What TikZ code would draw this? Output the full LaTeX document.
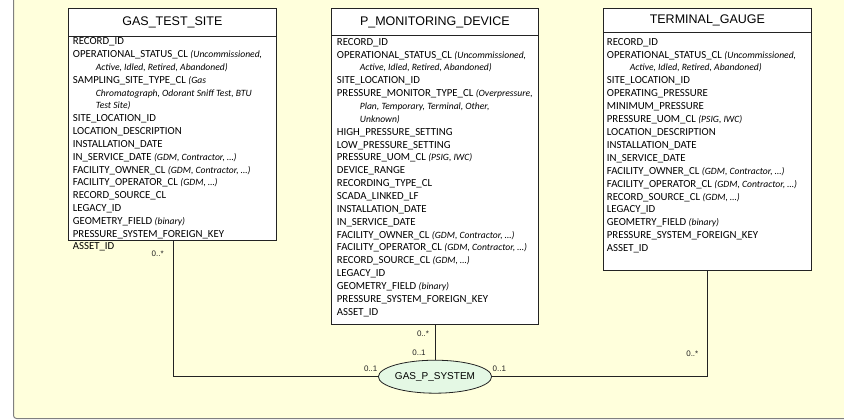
\documentclass[tikz,border=0pt]{standalone}
\usepackage{fontspec}
\setmainfont{Liberation Sans}
\newfontfamily\attrfont{Carlito}
\usetikzlibrary{shapes.geometric}

\definecolor{canvas}{RGB}{255,255,220}
\definecolor{frameline}{RGB}{128,128,128}
\definecolor{assocfill}{RGB}{228,248,228}
\definecolor{edge}{RGB}{35,35,35}

% code-list remark set in small italics after an attribute name
\newcommand\cl[1]{{\fontsize{9.6}{10}\selectfont\itshape #1}}

\tikzset{
  tablehead/.style={draw=edge, fill=white, line width=0.8pt, anchor=north west,
    inner sep=0pt, minimum width=208pt, font=\fontsize{12.5}{14}\selectfont},
  tablebody/.style={draw=edge, fill=white, line width=0.8pt, anchor=north west,
    inner sep=0pt, minimum width=208pt},
  attr/.style={anchor=base west, inner sep=0pt,
    font=\attrfont\fontsize{10.8}{12.85}\selectfont},
  mult/.style={inner sep=0pt, font=\fontsize{8}{9}\selectfont, text=edge},
  assoc/.style={ellipse, draw=edge, fill=assocfill, line width=0.8pt,
    minimum width=98pt, minimum height=33pt, inner sep=0pt,
    font=\fontsize{10}{12}\selectfont},
  link/.style={draw=edge, line width=0.8pt},
}

\begin{document}
\begin{tikzpicture}[x=1pt, y=-1pt]
\useasboundingbox (0,0) rectangle (844,420);
\fill[white] (0,0) rectangle (844,420);
\filldraw[fill=canvas, draw=frameline, line width=1pt, rounded corners=3pt]
  (13.5,-10) rectangle (860,418.5);

% ---------- GAS_TEST_SITE ----------
\node[tablehead, minimum height=28pt] (gtsH) at (68,8) {GAS\_TEST\_SITE};
\node[tablebody, minimum height=204pt] (gtsB) at (68,36) {};
\foreach \dx/\t [count=\i] in {
  0/{RECORD\_ID},
  0/{OPERATIONAL\_STATUS\_CL \cl{(Uncommissioned,}},
  23/{\cl{Active, Idled, Retired, Abandoned)}},
  0/{SAMPLING\_SITE\_TYPE\_CL \cl{(Gas}},
  23/{\cl{Chromatograph, Odorant Sniff Test, BTU}},
  23/{\cl{Test Site)}},
  0/{SITE\_LOCATION\_ID},
  0/{LOCATION\_DESCRIPTION},
  0/{INSTALLATION\_DATE},
  0/{IN\_SERVICE\_DATE \cl{(GDM, Contractor, …)}},
  0/{FACILITY\_OWNER\_CL \cl{(GDM, Contractor, …)}},
  0/{FACILITY\_OPERATOR\_CL \cl{(GDM, …)}},
  0/{RECORD\_SOURCE\_CL},
  0/{LEGACY\_ID},
  0/{GEOMETRY\_FIELD \cl{(binary)}},
  0/{PRESSURE\_SYSTEM\_FOREIGN\_KEY},
  0/{ASSET\_ID}}
  \node[attr] (gts-\i) at (72.7+\dx, 45.0+12.8*\i-12.8) {\t};

% ---------- P_MONITORING_DEVICE ----------
\node[tablehead, minimum width=207pt, minimum height=27pt] (pmdH) at (331,8) {P\_MONITORING\_DEVICE};
\node[tablebody, minimum width=207pt, minimum height=289pt] (pmdB) at (331,35) {};
\foreach \dx/\t [count=\i] in {
  0/{RECORD\_ID},
  0/{OPERATIONAL\_STATUS\_CL \cl{(Uncommissioned,}},
  23/{\cl{Active, Idled, Retired, Abandoned)}},
  0/{SITE\_LOCATION\_ID},
  0/{PRESSURE\_MONITOR\_TYPE\_CL \cl{(Overpressure,}},
  23/{\cl{Plan, Temporary, Terminal, Other,}},
  23/{\cl{Unknown)}},
  0/{HIGH\_PRESSURE\_SETTING},
  0/{LOW\_PRESSURE\_SETTING},
  0/{PRESSURE\_UOM\_CL \cl{(PSIG, IWC)}},
  0/{DEVICE\_RANGE},
  0/{RECORDING\_TYPE\_CL},
  0/{SCADA\_LINKED\_LF},
  0/{INSTALLATION\_DATE},
  0/{IN\_SERVICE\_DATE},
  0/{FACILITY\_OWNER\_CL \cl{(GDM, Contractor, …)}},
  0/{FACILITY\_OPERATOR\_CL \cl{(GDM, Contractor, …)}},
  0/{RECORD\_SOURCE\_CL \cl{(GDM, …)}},
  0/{LEGACY\_ID},
  0/{GEOMETRY\_FIELD \cl{(binary)}},
  0/{PRESSURE\_SYSTEM\_FOREIGN\_KEY},
  0/{ASSET\_ID}}
  \node[attr] (pmd-\i) at (336.7+\dx, 45.2+12.86*\i-12.86) {\t};

% ---------- TERMINAL_GAUGE ----------
\node[tablehead, minimum height=24pt] (tgH) at (603,8) {TERMINAL\_GAUGE};
\node[tablebody, minimum height=238pt] (tgB) at (603,32) {};
\foreach \dx/\t [count=\i] in {
  0/{RECORD\_ID},
  0/{OPERATIONAL\_STATUS\_CL \cl{(Uncommissioned,}},
  23/{\cl{Active, Idled, Retired, Abandoned)}},
  0/{SITE\_LOCATION\_ID},
  0/{OPERATING\_PRESSURE},
  0/{MINIMUM\_PRESSURE},
  0/{PRESSURE\_UOM\_CL \cl{(PSIG, IWC)}},
  0/{LOCATION\_DESCRIPTION},
  0/{INSTALLATION\_DATE},
  0/{IN\_SERVICE\_DATE},
  0/{FACILITY\_OWNER\_CL \cl{(GDM, Contractor, …)}},
  0/{FACILITY\_OPERATOR\_CL \cl{(GDM, Contractor, …)}},
  0/{RECORD\_SOURCE\_CL \cl{(GDM, …)}},
  0/{LEGACY\_ID},
  0/{GEOMETRY\_FIELD \cl{(binary)}},
  0/{PRESSURE\_SYSTEM\_FOREIGN\_KEY},
  0/{ASSET\_ID}}
  \node[attr] (tg-\i) at (606.7+\dx, 45.2+12.9*\i-12.9) {\t};

% ---------- association ----------
\node[assoc] (gps) at (435,376.7) {GAS\_P\_SYSTEM};

\coordinate (gtsFoot) at (173,240);
\coordinate (pmdFoot) at (435,324);
\coordinate (tgFoot) at (707,270);

\draw[link] (gtsFoot) |- (gps.west);
\draw[link] (pmdFoot) -- (gps.north);
\draw[link] (tgFoot) |- (gps.east);

% multiplicities
\node[mult] (m1) at (157.7,253.3) {0..*};
\node[mult] (m2) at (423,334) {0..*};
\node[mult] (m3) at (419,353) {0..1};
\node[mult] (m4) at (370.7,369) {0..1};
\node[mult] (m5) at (499.3,369) {0..1};
\node[mult] (m6) at (692.3,354) {0..*};
\end{tikzpicture}
\end{document}
